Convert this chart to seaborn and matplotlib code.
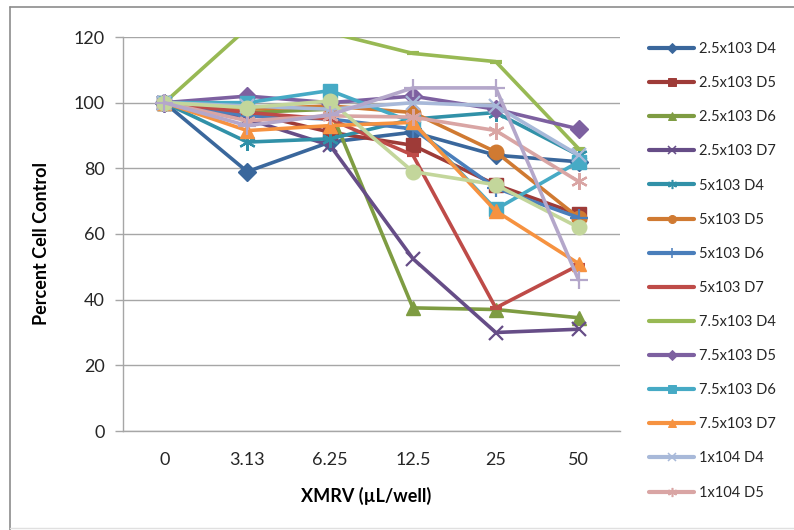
import matplotlib
matplotlib.use("Agg")
import matplotlib.pyplot as plt
import numpy as np
import pandas as pd
import seaborn as sns
from matplotlib.lines import Line2D

# XMRV dose per well (categorical x axis)
doses = ["0", "3.13", "6.25", "12.5", "25", "50"]

series_names = [
    "2.5x103 D4", "2.5x103 D5", "2.5x103 D6", "2.5x103 D7",
    "5x103 D4", "5x103 D5", "5x103 D6", "5x103 D7",
    "7.5x103 D4", "7.5x103 D5", "7.5x103 D6", "7.5x103 D7",
    "1x104 D4", "1x104 D5", "1x104 D6", "1x104 D7",
]

# Percent of cell control for each seeding density / day
s_25_d4 = [100, 79, 88, 91, 84, 82]
s_25_d5 = [100, 97, 91, 87, 75, 66]
s_25_d6 = [100, 97, 98, 37.5, 37, 34.5]
s_25_d7 = [100, 95, 87, 52.5, 30, 31]
s_5_d4 = [100, 88, 89, 95, 97, 84]
s_5_d5 = [100, 98, 99, 97, 85, 65]
s_5_d6 = [100, 96, 95, 92, 74, 65]
s_5_d7 = [100, 97, 95, 84, 37.5, 50.5]
s_75_d4 = [100, 122.7, 121.3, 115, 112.5, 86]
s_75_d5 = [100, 102, 100, 102, 98, 92]
s_75_d6 = [100, 100, 103.7, 94, 67.5, 82]
s_75_d7 = [100, 91.5, 93, 94, 67, 51]
s_10_d4 = [100, 99, 98, 100, 99, 84]
s_10_d5 = [100, 94.5, 96, 95.6, 91.5, 76]
s_10_d6 = [100, 98.5, 100.5, 79, 75, 62]
s_10_d7 = [100, 93, 96.3, 104.5, 104.5, 46]

values = [s_25_d4, s_25_d5, s_25_d6, s_25_d7, s_5_d4, s_5_d5, s_5_d6, s_5_d7,
          s_75_d4, s_75_d5, s_75_d6, s_75_d7, s_10_d4, s_10_d5, s_10_d6, s_10_d7]

colors = ["#3A679C", "#9E3B38", "#7E9C42", "#664D87", "#3191A8", "#D07A32",
          "#4A7EBB", "#BE4B48", "#98B954", "#7D60A0", "#46AAC5", "#F69240",
          "#A8B9D9", "#D9A5A4", "#C3D69B", "#B4A7CA"]

# marker, size, edge width, filled
asterisk = (6, 2, 0)
marker_cycle = [
    ("D", 9, 1, True), ("s", 9.5, 1, True), ("^", 10, 1, True), ("x", 10, 1.6, False),
    (asterisk, 12, 1.6, False), ("o", 10.5, 1, True), ("+", 13, 1.6, False), ("_", 9, 3, False),
]
markers = [marker_cycle[i % 8] if i < 9 else marker_cycle[(i - 9) % 7] for i in range(16)]
markers[8] = ("_", 9, 3, False)

rows = []
for name, vals in zip(series_names, values):
    for pos, v in enumerate(vals):
        rows.append({"series": name, "pos": pos, "pct": v})
df = pd.DataFrame(rows)

sns.set_theme(style="white")
plt.rcParams["font.family"] = ["Lato", "DejaVu Sans"]
text_color = "#262626"

fig = plt.figure(figsize=(7.94, 5.30), dpi=100)
ax = fig.add_axes([123 / 794, 1 - 431 / 530, 497 / 794, 394 / 530])

for name, col, (m, ms, mw, filled) in zip(series_names, colors, markers):
    sub = df[df["series"] == name]
    sns.lineplot(data=sub, x="pos", y="pct", ax=ax, color=col, lw=2.6,
                 marker=m, markersize=ms, mec=col, mew=mw,
                 mfc=col if filled else "none", errorbar=None, legend=False,
                 sort=False)

ax.set_xlim(-0.5, 5.5)
ax.set_ylim(0, 120)
ax.set_yticks(np.arange(0, 121, 20))
ax.set_xticks(range(len(doses)))
ax.set_xticklabels(doses)
ax.grid(axis="y", color="#A6A6A6", lw=1)
ax.grid(axis="x", visible=False)
for side in ("top", "right"):
    ax.spines[side].set_visible(False)
for side in ("left", "bottom"):
    ax.spines[side].set_color("#A6A6A6")
    ax.spines[side].set_linewidth(1)
ax.tick_params(axis="y", length=6, width=1, color="#A6A6A6", left=True,
               labelsize=13, labelcolor=text_color, pad=7)
ax.tick_params(axis="x", length=0, labelsize=13, labelcolor=text_color, pad=15)

ax.set_xlabel("XMRV (µL/well)", fontsize=13, fontweight="bold", color="black")
ax.set_ylabel("Percent Cell Control", fontsize=13, fontweight="bold", color="black")
ax.xaxis.set_label_coords(0.49, -0.142)
ax.yaxis.set_label_coords(-0.146, 0.475)

# legend (first fourteen series)
handles = []
for name, col, (m, ms, mw, filled) in list(zip(series_names, colors, markers))[:14]:
    handles.append(Line2D([0], [0], color=col, lw=3, marker=m, markersize=ms * 0.55,
                          mec=col, mew=mw * 0.7, mfc=col if filled else "none"))
fig.legend(handles, series_names[:14], loc="upper left",
           bbox_to_anchor=(649 / 794, 1 - 42 / 530), frameon=False,
           fontsize=10.5, handlelength=3.1, handletextpad=0.3,
           labelspacing=1.38, borderpad=0, borderaxespad=0,
           labelcolor=text_color)

# chart area border
fig.add_artist(Line2D([10 / 794, 10 / 794], [0, 1 - 7 / 530], color="#8C8C8C", lw=1.2,
                      transform=fig.transFigure))
fig.add_artist(Line2D([10 / 794, 1], [1 - 7 / 530, 1 - 7 / 530], color="#8C8C8C", lw=1.2,
                      transform=fig.transFigure))
fig.add_artist(Line2D([10 / 794, 1], [2 / 530, 2 / 530], color="#E0E0E0", lw=1,
                      transform=fig.transFigure))

fig.savefig("out.png", dpi=100)
